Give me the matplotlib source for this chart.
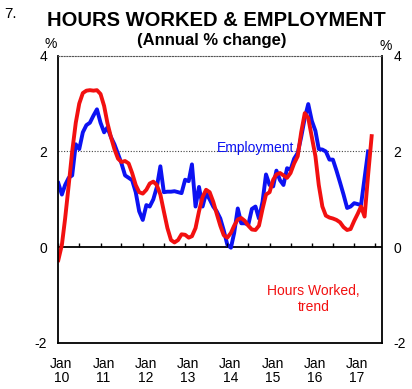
import numpy as np
import pandas as pd
import matplotlib
matplotlib.use("Agg")
import matplotlib.pyplot as plt
import matplotlib.transforms as mtrans

plt.rcParams['font.family'] = ['Liberation Sans', 'DejaVu Sans']

# annual % change, monthly from Jan 2010
employment = [1.34, 1.1, 1.3, 1.45, 1.5, 2.15, 2.05, 2.4, 2.55, 2.6, 2.75, 2.88,
              2.6, 2.4, 2.5, 2.3, 2.15, 1.95, 1.75, 1.5, 1.45, 1.4, 1.15, 0.75,
              0.57, 0.88, 0.85, 1.0, 1.25, 1.69, 1.15, 1.16, 1.16, 1.17, 1.15, 1.13,
              1.41, 1.38, 1.73, 0.85, 1.26, 0.85, 1.13, 1.0, 0.85, 0.75, 0.6, 0.35,
              0.05, -0.01, 0.3, 0.81, 0.5, 0.5, 0.47, 0.8, 0.85, 0.6, 0.95, 1.52,
              1.3, 1.27, 1.6, 1.4, 1.3, 1.65, 1.62, 1.85, 1.97, 2.3, 2.7, 2.99,
              2.64, 2.43, 2.05, 2.04, 2.0, 1.83, 1.83, 1.6, 1.35, 1.1, 0.82, 0.85,
              0.92, 0.9, 0.88, 1.45, 2.0]
hours_trend = [-0.27, 0.05, 0.6, 1.3, 2.0, 2.6, 3.0, 3.22, 3.27, 3.28, 3.27, 3.28,
               3.2, 2.95, 2.6, 2.3, 2.05, 1.85, 1.78, 1.8, 1.75, 1.55, 1.3, 1.15,
               1.12, 1.2, 1.33, 1.37, 1.3, 1.1, 0.75, 0.4, 0.15, 0.1, 0.15, 0.27,
               0.26, 0.2, 0.23, 0.4, 0.75, 1.05, 1.2, 1.15, 0.95, 0.7, 0.45, 0.25,
               0.2, 0.3, 0.45, 0.58, 0.61, 0.55, 0.45, 0.37, 0.36, 0.45, 0.8, 1.1,
               1.15, 1.41, 1.52, 1.55, 1.5, 1.45, 1.55, 1.75, 1.9, 2.4, 2.8, 2.7,
               2.3, 1.9, 1.3, 0.85, 0.66, 0.62, 0.6, 0.57, 0.52, 0.42, 0.36, 0.38,
               0.55, 0.7, 0.85, 0.64, 1.5, 2.32]
year_labels = ['Jan\n10', 'Jan\n11', 'Jan\n12', 'Jan\n13', 'Jan\n14', 'Jan\n15', 'Jan\n16', 'Jan\n17']

emp_dates = pd.date_range('2010-01-01', periods=len(employment), freq='MS')
hrs_dates = pd.date_range('2010-01-01', periods=len(hours_trend), freq='MS')
year_ticks = pd.date_range('2010-01-01', periods=len(year_labels), freq='12MS')
half_ticks = pd.date_range('2010-01-01', '2017-07-01', freq='6MS')

fig = plt.figure(figsize=(4.12, 3.89), dpi=100)
ax = fig.add_axes([58.3 / 412, 1 - 343 / 389, 324 / 412, 287.3 / 389])

blue = '#0c12f2'
red = '#f21010'
ax.plot(emp_dates, employment, color=blue, lw=2.8, solid_joinstyle='round')
ax.plot(hrs_dates, hours_trend, color=red, lw=2.8, solid_joinstyle='round')

ax.axhline(0, color='black', lw=1.3, zorder=1)
ax.axhline(2, color='#444444', lw=0.8, ls=(0, (1, 1.5)), zorder=0)
ax.vlines(half_ticks, 0, 0.09, color='black', lw=1)

ax.set_xlim(pd.Timestamp('2010-01-01'), pd.Timestamp('2017-09-01'))
ax.set_ylim(-2, 4)
ax.set_yticks([-2, 0, 2, 4])
ax.set_yticklabels(['-2', '0', '2', '4'])
ax.set_xticks(year_ticks)
ax.set_xticklabels(year_labels, linespacing=1.0)
ax.tick_params(axis='both', length=0, labelsize=10)
ax.tick_params(axis='y', pad=8, labelright=True, right=False)
ax.tick_params(axis='x', pad=10)
offset = mtrans.ScaledTranslation(3 / 100, 0, fig.dpi_scale_trans)
for lab in ax.get_xticklabels():
    lab.set_transform(lab.get_transform() + offset)

for s in ['left', 'right', 'bottom']:
    ax.spines[s].set_linewidth(1.3)
ax.spines['top'].set_linestyle((0, (1, 1.5)))
ax.spines['top'].set_linewidth(0.8)
ax.spines['top'].set_color('#555555')

ax.text(0.61, 0.68, 'Employment', transform=ax.transAxes, color=blue,
        fontsize=10, ha='center', va='center')
ax.text(0.787, 0.153, 'Hours Worked,\ntrend', transform=ax.transAxes, color=red,
        fontsize=10, ha='center', va='center', linespacing=1.1)

fig.text(216 / 412, 1 - 20.5 / 389, 'HOURS WORKED & EMPLOYMENT', ha='center', va='center',
         fontsize=14.5, fontweight='bold')
fig.text(212 / 412, 1 - 40 / 389, '(Annual % change)', ha='center', va='center',
         fontsize=12, fontweight='bold')
fig.text(4 / 412, 1 - 14 / 389, '7.', ha='left', va='center', fontsize=11)
fig.text(51 / 412, 1 - 44 / 389, '%', ha='center', va='center', fontsize=10)
fig.text(386 / 412, 1 - 46 / 389, '%', ha='center', va='center', fontsize=10)

fig.savefig('out.png', dpi=100)
